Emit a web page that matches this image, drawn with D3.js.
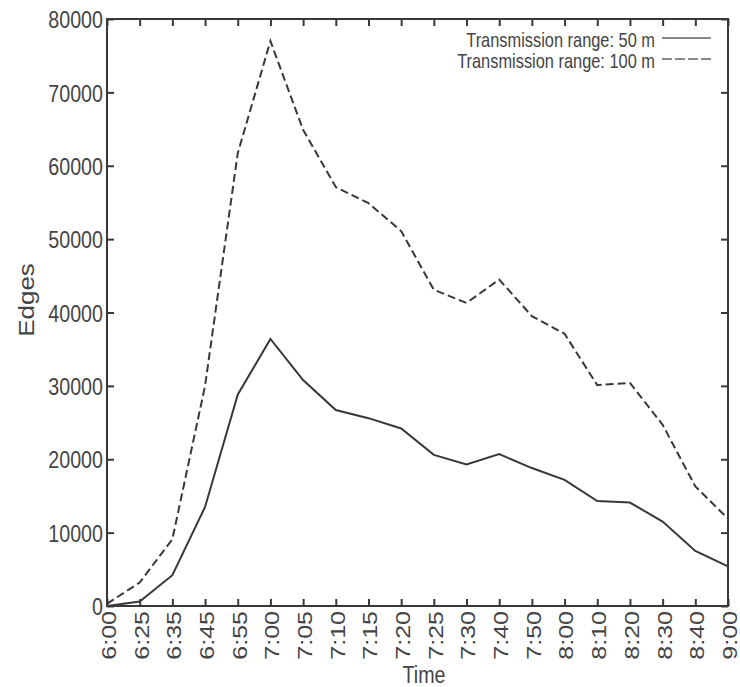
<!DOCTYPE html>
<html>
<head>
<meta charset="utf-8">
<script src="https://cdn.jsdelivr.net/npm/d3@7/dist/d3.min.js"></script>
<style>
  html, body { margin: 0; padding: 0; background: #fff; }
  svg { display: block; }
  text { font-family: "Liberation Sans", Arial, Helvetica, sans-serif; fill: #444; }
</style>
</head>
<body>
<svg id="chart" width="740" height="687"></svg>
<script>
// Sample times along the x axis
const times = ["6:00","6:25","6:35","6:45","6:55","7:00","7:05","7:10","7:15","7:20",
               "7:25","7:30","7:40","7:50","8:00","8:10","8:20","8:30","8:40","9:00"];
// Edge counts for each transmission range
const range50  = [0, 600, 4200, 13500, 28800, 36400, 30800, 26700, 25600, 24200,
                  20600, 19300, 20700, 18800, 17200, 14300, 14100, 11500, 7500, 5400];
const range100 = [300, 3200, 9100, 30000, 61700, 77000, 64900, 57100, 54900, 51100,
                  43100, 41300, 44500, 39500, 37100, 30100, 30400, 24700, 16300, 11900];
const yTicks = [0, 10000, 20000, 30000, 40000, 50000, 60000, 70000, 80000];
const seriesNames = ["Transmission range: 50 m", "Transmission range: 100 m"];

const plotLeft = 107, plotRight = 728, plotTop = 19, plotBottom = 606;
const squeeze = "scale(0.82,1)";
const lineColor = "#383838";

const svg = d3.select("#chart");

const x = d3.scalePoint().domain(times).range([plotLeft, plotRight]);
const y = d3.scaleLinear().domain([0, 80000]).range([plotBottom, plotTop]);

// Inward ticks on all four sides
const gLeft = svg.append("g").attr("transform", `translate(${plotLeft},0)`)
  .call(d3.axisLeft(y).tickValues(yTicks).tickSize(-7).tickSizeOuter(0).tickFormat(d3.format("d")));
gLeft.selectAll("text")
  .attr("x", 0).attr("dy", "0.36em")
  .attr("text-anchor", "end")
  .attr("transform", `translate(-4,0) ${squeeze}`)
  .style("font-size", "24px");

const gRight = svg.append("g").attr("transform", `translate(${plotRight},0)`)
  .call(d3.axisRight(y).tickValues(yTicks).tickSize(-7).tickSizeOuter(0).tickFormat(""));

const gBottom = svg.append("g").attr("transform", `translate(0,${plotBottom})`)
  .call(d3.axisBottom(x).tickSize(-7).tickSizeOuter(0));
gBottom.selectAll("text")
  .attr("x", 0).attr("y", 0).attr("dy", "0.36em")
  .attr("text-anchor", "end")
  .attr("transform", `translate(1,5) ${squeeze} rotate(-90)`)
  .style("font-size", "25px");

const gTop = svg.append("g").attr("transform", `translate(0,${plotTop})`)
  .call(d3.axisTop(x).tickSize(-7).tickSizeOuter(0).tickFormat(""));

[gLeft, gRight, gBottom, gTop].forEach(g => {
  g.select(".domain").remove();
  g.selectAll("line").attr("stroke", lineColor).attr("stroke-width", 2);
  g.attr("font-family", null).attr("font-size", null);
  g.selectAll("text").attr("fill", "#444");
});

// Frame
svg.append("rect")
  .attr("x", plotLeft).attr("y", plotTop)
  .attr("width", plotRight - plotLeft).attr("height", plotBottom - plotTop)
  .attr("fill", "none").attr("stroke", lineColor).attr("stroke-width", 2);

// Data lines
const line = d3.line().x((d, i) => x(times[i])).y(d => y(d));

svg.append("path").datum(range100)
  .attr("d", line).attr("fill", "none")
  .attr("stroke", lineColor).attr("stroke-width", 2)
  .attr("stroke-dasharray", "8,4");

svg.append("path").datum(range50)
  .attr("d", line).attr("fill", "none")
  .attr("stroke", lineColor).attr("stroke-width", 2);

// Axis titles
svg.append("text")
  .attr("text-anchor", "middle")
  .attr("transform", `translate(424,683) ${squeeze}`)
  .style("font-size", "24px")
  .text("Time");

svg.append("text")
  .attr("text-anchor", "middle")
  .attr("dy", "0.36em")
  .attr("transform", `translate(26,300) ${squeeze} rotate(-90)`)
  .style("font-size", "26px")
  .text("Edges");

// Legend
const legend = svg.append("g");
const legendRows = [
  { label: seriesNames[0], ty: 47, ly: 38, dash: null },
  { label: seriesNames[1], ty: 68, ly: 59, dash: "10,3" }
];
legendRows.forEach(r => {
  legend.append("text")
    .attr("text-anchor", "end")
    .attr("transform", `translate(655,${r.ty}) ${squeeze}`)
    .style("font-size", "20px")
    .attr("fill", "#555")
    .text(r.label);
  legend.append("line")
    .attr("x1", 662).attr("x2", 711)
    .attr("y1", r.ly).attr("y2", r.ly)
    .attr("stroke", "#888").attr("stroke-width", 2)
    .attr("stroke-dasharray", r.dash);
});
</script>
</body>
</html>
